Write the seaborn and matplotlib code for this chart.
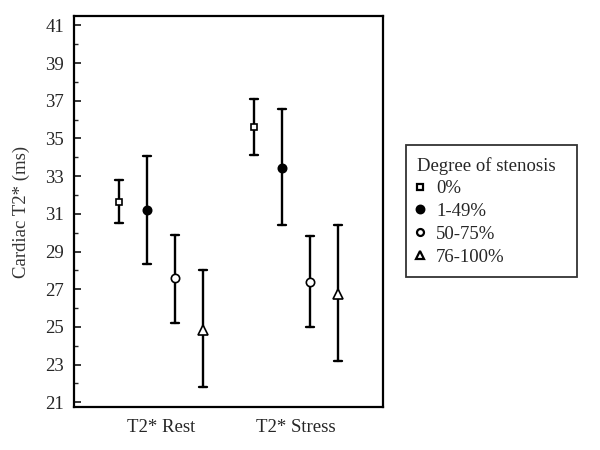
import numpy as np
import pandas as pd
import matplotlib
matplotlib.use("Agg")
import matplotlib.pyplot as plt
import seaborn as sns
from matplotlib.lines import Line2D
from matplotlib.ticker import MultipleLocator

# ---- data ----
conditions = ["T2* Rest", "T2* Stress"]
stenosis = ["0%", "1-49%", "50-75%", "76-100%"]
mean_rest = [31.65, 31.2, 27.6, 24.85]
low_rest = [30.5, 28.35, 25.2, 21.8]
high_rest = [32.8, 34.05, 29.9, 28.0]
mean_stress = [35.6, 33.45, 27.4, 26.75]
low_stress = [34.1, 30.4, 25.0, 23.2]
high_stress = [37.1, 36.55, 29.8, 30.4]
y_ticks = [21, 23, 25, 27, 29, 31, 33, 35, 37, 39, 41]

rows = []
for cond, lo, me, hi in [(conditions[0], low_rest, mean_rest, high_rest),
                         (conditions[1], low_stress, mean_stress, high_stress)]:
    for s, a, b, c in zip(stenosis, lo, me, hi):
        for v in (a, b, c):
            rows.append({"condition": cond, "stenosis": s, "T2": v})
df = pd.DataFrame(rows)

sns.set_theme(style="ticks")
plt.rcParams['font.family'] = ['Liberation Serif', 'DejaVu Serif']

fig = plt.figure(figsize=(6, 4.5), dpi=100)
ax = fig.add_axes([74/600, 1-407/450, (383-74)/600, (407-16)/450])

marker_list = ["s", "o", "o", "^"]
face = ["white", "black", "white", "white"]
msize = [4.5, 6.0, 6.0, 6.5]

sns.pointplot(data=df, x="condition", y="T2", hue="stenosis", order=conditions,
              hue_order=stenosis, estimator="median",
              errorbar=lambda x: (x.min(), x.max()),
              dodge=0.622, markers=marker_list, linestyles="none",
              palette=["black"] * 4, capsize=0.06,
              err_kws={"linewidth": 1.7}, legend=False, ax=ax)

# style the mean markers
mk_lines = [l for l in ax.lines if l.get_marker() not in (None, "None", "", " ")]
for i, l in enumerate(mk_lines):
    l.set_markerfacecolor(face[i % 4])
    l.set_markeredgecolor("black")
    l.set_markeredgewidth(1.2)
    l.set_markersize(msize[i % 4])
    l.set_zorder(5)

ax.set_xlim(-0.644, 1.644)
ax.set_ylim(20.75, 41.5)
ax.set_yticks(y_ticks)
ax.yaxis.set_minor_locator(MultipleLocator(1))
ax.tick_params(axis="y", which="major", direction="in", length=5, width=1.3,
               labelsize=13.5, pad=7)
ax.tick_params(axis="y", which="minor", direction="in", length=3, width=1.0)
ax.tick_params(axis="x", which="both", length=0, labelsize=13.5, pad=9)
for sp in ax.spines.values():
    sp.set_visible(True)
    sp.set_linewidth(1.6)
    sp.set_color("black")
ax.set_xlabel("")
ax.set_ylabel("Cardiac T2* (ms)", fontsize=13.5, color="#333333", labelpad=11)

handles = [Line2D([], [], linestyle="none", marker=m, markersize=s,
                  markerfacecolor=f, markeredgecolor="black", markeredgewidth=1.6)
           for m, f, s in zip(marker_list, face, [4.5, 5.5, 5.0, 5.5])]
leg = ax.legend(handles, stenosis, title="Degree of stenosis",
                loc="upper left", bbox_to_anchor=(1.074, 0.670, 0.553, 0.0),
                mode="expand", borderaxespad=0, frameon=True, fancybox=False,
                fontsize=13.5, title_fontsize=13.5, handlelength=0.3,
                handletextpad=0.7, labelspacing=0.3, borderpad=0.62)
leg._legend_box.align = "left"
leg.get_frame().set_edgecolor("black")
leg.get_frame().set_linewidth(1.3)

fig.savefig("out.png", dpi=100)
